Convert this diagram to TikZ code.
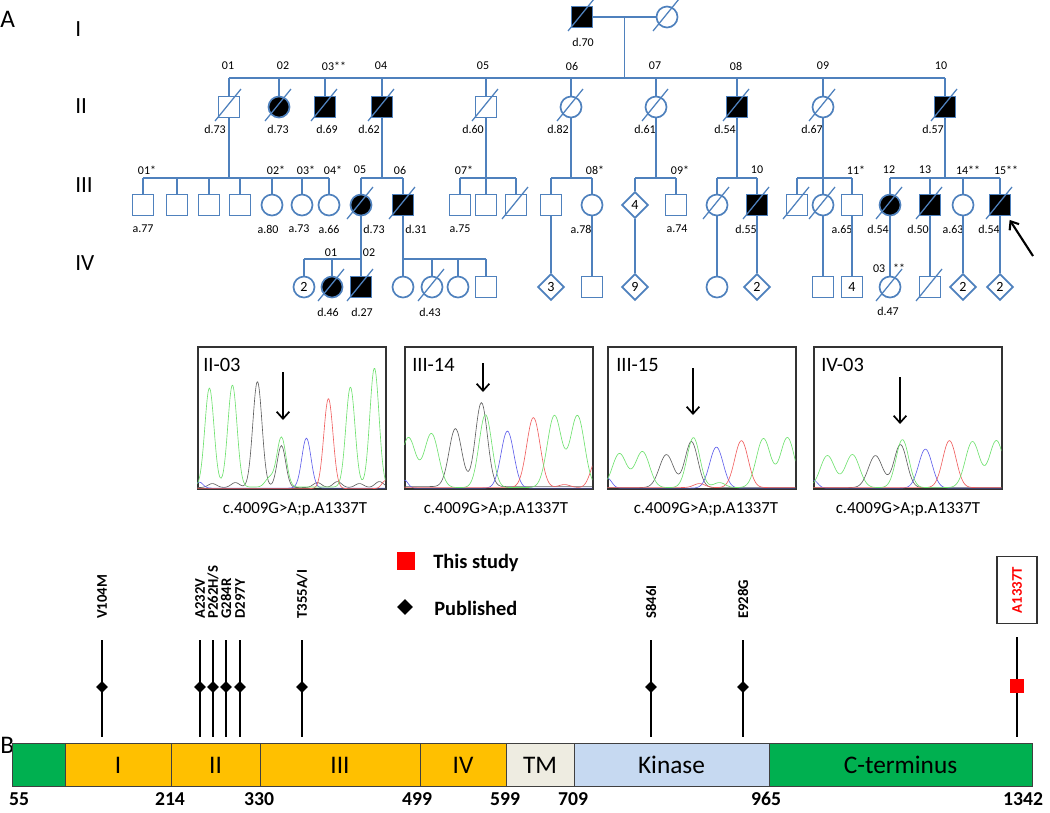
\documentclass[tikz,border=0pt]{standalone}
\usepackage{fontspec}
\setmainfont{Carlito}
\usetikzlibrary{arrows.meta,positioning,shapes.geometric,calc}
\definecolor{pedblue}{RGB}{79,129,189}
\definecolor{domgreen}{RGB}{0,176,80}
\definecolor{domgold}{RGB}{255,192,0}
\definecolor{domtm}{RGB}{238,236,225}
\definecolor{domkin}{RGB}{198,217,241}
\definecolor{trgreen}{RGB}{110,225,110}
\definecolor{trgray}{RGB}{95,95,95}
\definecolor{trblue}{RGB}{95,95,235}
\definecolor{trred}{RGB}{240,95,95}
\definecolor{studyred}{RGB}{255,0,0}
\newcommand{\letfont}{\fontsize{18}{20}\selectfont}
\newcommand{\genfont}{\fontsize{16.5}{18}\selectfont}
\newcommand{\pedfont}{\fontsize{8.5}{10}\selectfont}
\newcommand{\symfont}{\fontsize{10}{11}\selectfont}
\newcommand{\panfont}{\fontsize{14.5}{16}\selectfont}
\newcommand{\capfont}{\fontsize{12}{14}\selectfont}
\newcommand{\legfont}{\fontsize{14.5}{16}\selectfont\bfseries}
\newcommand{\domfont}{\fontsize{18}{20}\selectfont}
\newcommand{\numfont}{\fontsize{14}{16}\selectfont\bfseries}
\newcommand{\mutfont}{\fontsize{10.5}{12}\selectfont\bfseries}

\begin{document}
\begin{tikzpicture}[x=0.025cm,y=-0.025cm,
  declare function={pk(\pkx,\pkc,\pkh,\pkw)=\pkh*exp(max(-9,0-((\pkx-\pkc)/\pkw)*((\pkx-\pkc)/\pkw)));},
  ped/.style={draw=pedblue,line width=1.2pt},
  person/.style={ped,minimum size=0.525cm,inner sep=0pt,font=\symfont},
  unknown/.style={ped,diamond,fill=white,minimum size=0.66cm,inner sep=0pt,font=\symfont},
  dead/.style={draw=pedblue,line width=0.9pt},
  pedtxt/.style={font=\pedfont,inner sep=0pt},
  gentxt/.style={font=\genfont,anchor=west,inner sep=0pt},
  panel/.style={draw=black!80,line width=0.8pt,minimum width=4.7cm,minimum height=3.55cm,inner sep=0pt},
  trace/.style={line width=0.45pt},
  seqarrow/.style={-{Straight Barb[length=5pt,width=9pt]},line width=1.2pt},
  proband/.style={-{Straight Barb[length=5pt,width=8pt]},line width=1.5pt,shorten >=3pt},
  dom/.style={draw=black!75,line width=0.6pt},
  stem/.style={line width=1.4pt},
  pubmark/.style={diamond,fill=black,minimum size=0.3cm,inner sep=0pt},
  studymark/.style={rectangle,fill=studyred,minimum size=0.33cm,inner sep=0pt},
  mutlab/.style={rotate=90,anchor=west,font=\mutfont,inner sep=0pt},
]
  \useasboundingbox (0,0) rectangle (1050,812);

  % Panel A: pedigree
  \node[font=\letfont,anchor=west,inner sep=0pt] (labA) at (0,19) {A};
  \node[gentxt] (gI) at (75,29) {I};
  \node[gentxt] (gII) at (75,106) {II};
  \node[gentxt] (gIII) at (75,185) {III};
  \node[gentxt] (gIV) at (75,263) {IV};

  % generation I
  \node[person,fill=black] (I1) at (582,17) {};
  \node[person,circle,fill=white] (I2) at (667,17) {};
  \node[pedtxt] (aI1) at (583,42) {d.70};
  \draw[ped] (I1.east) -- (I2.west);
  \coordinate (Ic) at ($(I1.east)!.5!(I2.west)$);
  \coordinate (s2) at (627,78);
  \coordinate (s3) at (0,178);
  \coordinate (s4) at (0,259);
  \draw[ped] (Ic) -- (Ic |- s2);

  % generation II
  \foreach \n/\x/\sh/\f in {01/229/rectangle/white, 02/279/circle/black, 03/325/rectangle/black,
      04/382/rectangle/black, 05/486/rectangle/white, 06/571/circle/white, 07/656/circle/white,
      08/737/rectangle/black, 09/823/circle/white, 10/945/rectangle/black}
    \node[person,shape=\sh,fill=\f] (II\n) at (\x,107) {};
  \foreach \n/\x/\t in {01/228/01, 02/283/02, 03/334/{03**}, 04/381/04, 05/483/05,
      06/572/06, 07/655/07, 08/736/08, 09/823/09, 10/941/10}
    \node[pedtxt] (tII\n) at (\x,66) {\t};
  \foreach \n/\x/\t in {01/215/d.73, 02/278/d.73, 03/327/d.69, 04/369/d.62, 05/473/d.60,
      06/558/d.82, 07/645/d.61, 08/725/d.54, 09/812/d.67, 10/933/d.57}
    \node[pedtxt] (aII\n) at (\x,129) {\t};
  \draw[ped] (II01 |- s2) -- (II10 |- s2);
  \foreach \n in {01,02,03,04,05,06,07,08,09,10}
    \draw[ped] (II\n.north) -- (II\n |- s2);

  % generation III
  \foreach \n/\x/\sh/\f in {A1/143/rectangle/white, A2/177/rectangle/white, A3/209/rectangle/white,
      A4/240/rectangle/white, A5/272/circle/white, A6/302/circle/white, A7/329/circle/white,
      B1/361/circle/black, B2/403/rectangle/black, C1/460/rectangle/white, C2/486/rectangle/white,
      C3/516/rectangle/white, D1/551/rectangle/white, D2/592/circle/white, E2/676/rectangle/white,
      F1/717/circle/white, F2/757/rectangle/black, G1/797/rectangle/white, G2/823/circle/white,
      G3/852/rectangle/white, H1/890/circle/black, H2/930/rectangle/black, H3/963/circle/white,
      H4/1000/rectangle/black}
    \node[person,shape=\sh,fill=\f] (III\n) at (\x,205) {};
  \node[unknown] (IIIE1) at (635,205) {4};
  \foreach \n/\x/\t in {A1/147/01*, A5/276/02*, A6/306/03*, A7/333/04*, B1/360/05, B2/400/06,
      C1/464/07*, D2/595/08*, E2/680/09*, F2/757/10, G3/856/11*, H1/889/12, H2/925/13,
      H3/968/14**, H4/1006/15**}
    \node[pedtxt] (tIII\n) at (\x,170) {\t};
  \foreach \n/\x/\t in {A1/143/a.77, A5/268/a.80, A6/299/a.73, A7/329/a.66, B1/374/d.73,
      B2/416/d.31, C1/460/a.75, D2/581/a.78, E2/677/a.74, F2/746/d.55, G3/842/a.65,
      H1/878/d.54, H2/918/d.50, H3/953/a.63, H4/989/d.54}
    \node[pedtxt] (aIII\n) at (\x,229) {\t};
  \foreach \p/\a/\b in {01/A1/A7, 04/B1/B2, 05/C1/C3, 06/D1/D2, 07/E1/E2, 08/F1/F2, 09/G1/G3, 10/H1/H4} {
    \draw[ped] (II\p.south) -- (II\p |- s3);
    \draw[ped] (III\a |- s3) -- (III\b |- s3);
  }
  \foreach \n in {A1,A2,A3,A4,A5,A6,A7,B1,B2,C1,C2,C3,D1,D2,E1,E2,F1,F2,G1,G2,G3,H1,H2,H3,H4}
    \draw[ped] (III\n.north) -- (III\n |- s3);

  % generation IV
  \foreach \n/\x/\sh/\f/\t in {P1/304/circle/white/2, P2/332/circle/black/{}, P3/361/rectangle/black/{},
      Q1/403/circle/white/{}, Q2/432/circle/white/{}, Q3/458/circle/white/{}, Q4/486/rectangle/white/{},
      R2/592/rectangle/white/{}, R4/717/circle/white/{}, R6/823/rectangle/white/{},
      R7/852/rectangle/white/4, R8/890/circle/white/{}, R9/930/rectangle/white/{}}
    \node[person,shape=\sh,fill=\f] (IV\n) at (\x,287) {\t};
  \foreach \n/\x/\t in {R1/551/3, R3/635/9, R5/757/2, R10/963/2, R11/1000/2}
    \node[unknown] (IV\n) at (\x,287) {\t};
  \node[pedtxt] (tIVP2) at (331,253) {01};
  \node[pedtxt] (tIVP3) at (369,253) {02};
  \node[pedtxt] (tIVR8) at (889,268) {03\hspace{0.2cm}**};
  \node[pedtxt] (aIVP2) at (328,312) {d.46};
  \node[pedtxt] (aIVP3) at (362,312) {d.27};
  \node[pedtxt] (aIVQ2) at (430,312) {d.43};
  \node[pedtxt] (aIVR8) at (888,311) {d.47};
  \draw[ped] (IIIB1.south) -- (IVP3.north);
  \draw[ped] (IVP1 |- s4) -- (IVP3 |- s4);
  \draw[ped] (IIIB2.south) -- (IVQ1.north);
  \draw[ped] (IVQ1 |- s4) -- (IVQ4 |- s4);
  \foreach \n in {P1,P2,Q2,Q3,Q4}
    \draw[ped] (IV\n.north) -- (IV\n |- s4);
  \foreach \a/\b in {D1/R1, D2/R2, E1/R3, F1/R4, F2/R5, G2/R6, G3/R7, H1/R8, H2/R9, H3/R10, H4/R11}
    \draw[ped] (III\a.south) -- (IV\b.north);

  % deceased
  \foreach \n in {I1,I2,II01,II02,II03,II04,II05,II06,II07,II08,II09,II10,IIIB1,IIIB2,IIIC3,
      IIIF1,IIIF2,IIIG1,IIIG2,IIIH1,IIIH2,IIIH4,IVP2,IVP3,IVQ2,IVR8,IVR9}
    \draw[dead] ($(\n.center)+(-14,14)$) -- ($(\n.center)+(12,-18)$);

  % proband
  \coordinate (pb) at (1033,256);
  \draw[proband] (pb) -- (IIIH4);

  % chromatograms
  \node[panel] (pan1) at (292,418) {};
  \node[panel] (pan2) at (499,418) {};
  \node[panel] (pan3) at (702,418) {};
  \node[panel] (pan4) at (908,418) {};

  \begin{scope}[shift={(pan1.south west)},yscale=-1]
    \clip (0,0) rectangle (188,142);
    \draw[trace,trgray] plot[domain=0:188,samples=160,smooth] (\x,{2+pk(\x,60,106,6.5)+pk(\x,84,42,6)+pk(\x,15,4,6)+pk(\x,38,5,6)+pk(\x,120,5,6)+pk(\x,140,6,6)+pk(\x,162,4,6)+pk(\x,182,6,6)});
    \draw[trace,trblue] plot[domain=0:188,samples=160,smooth] (\x,{1.5+pk(\x,109,50,6.5)+pk(\x,2,6,5)});
    \draw[trace,trred] plot[domain=0:188,samples=160,smooth] (\x,{1+pk(\x,131,90,6.5)+pk(\x,188,8,5)});
    \draw[trace,trgreen] plot[domain=0:188,samples=160,smooth] (\x,{2.5+pk(\x,12,99,6.5)+pk(\x,35,102,6.5)+pk(\x,72,9,6)+pk(\x,84,50,6.5)+pk(\x,153,100,6.5)+pk(\x,177,119,6.5)});
  \end{scope}
  \begin{scope}[shift={(pan2.south west)},yscale=-1]
    \clip (0,0) rectangle (188,142);
    \draw[trace,trgray] plot[domain=0:188,samples=160,smooth] (\x,{3+pk(\x,51,58,9)+pk(\x,77,84,8.5)});
    \draw[trace,trblue] plot[domain=0:188,samples=160,smooth] (\x,{1.5+pk(\x,103,57,9)+pk(\x,0,8,5)});
    \draw[trace,trred] plot[domain=0:188,samples=160,smooth] (\x,{2+pk(\x,129,70,9.5)+pk(\x,192,28,8)+pk(\x,160,3,8)});
    \draw[trace,trgreen] plot[domain=0:188,samples=160,smooth] (\x,{2+pk(\x,4,50,10)+pk(\x,27,54,10)+pk(\x,81,73,9)+pk(\x,150,72,10)+pk(\x,173,72,10)});
  \end{scope}
  \begin{scope}[shift={(pan3.south west)},yscale=-1]
    \clip (0,0) rectangle (188,142);
    \draw[trace,trgray] plot[domain=0:188,samples=160,smooth] (\x,{2+pk(\x,59,33,10)+pk(\x,84,46,9)});
    \draw[trace,trblue] plot[domain=0:188,samples=160,smooth] (\x,{1.5+pk(\x,109,41,9.5)+pk(\x,0,10,6)});
    \draw[trace,trred] plot[domain=0:188,samples=160,smooth] (\x,{2+pk(\x,134,47,9.5)+pk(\x,92,4,8)});
    \draw[trace,trgreen] plot[domain=0:188,samples=160,smooth] (\x,{2+pk(\x,12,34,10)+pk(\x,35,36,10)+pk(\x,86,50,9)+pk(\x,112,5,8)+pk(\x,156,49,10)+pk(\x,180,50,10)});
  \end{scope}
  \begin{scope}[shift={(pan4.south west)},yscale=-1]
    \clip (0,0) rectangle (188,142);
    \draw[trace,trgray] plot[domain=0:188,samples=160,smooth] (\x,{2+pk(\x,62,32,10)+pk(\x,87,43,9)});
    \draw[trace,trblue] plot[domain=0:188,samples=160,smooth] (\x,{1.5+pk(\x,112,39,9.5)+pk(\x,0,8,6)});
    \draw[trace,trred] plot[domain=0:188,samples=160,smooth] (\x,{2+pk(\x,136,47,9.5)});
    \draw[trace,trgreen] plot[domain=0:188,samples=160,smooth] (\x,{2+pk(\x,14,32,10)+pk(\x,39,33,10)+pk(\x,89,48,9)+pk(\x,159,46,10)+pk(\x,183,47,10)});
  \end{scope}

  \node[font=\panfont,anchor=base west,inner sep=0pt] (lab1) at (203,371) {II-03};
  \node[font=\panfont,anchor=base west,inner sep=0pt] (lab2) at (412,371) {III-14};
  \node[font=\panfont,anchor=base west,inner sep=0pt] (lab3) at (616,371) {III-15};
  \node[font=\panfont,anchor=base west,inner sep=0pt] (lab4) at (821,371) {IV-03};

  \coordinate (ar1a) at (283,372); \coordinate (ar1b) at (283,420);
  \coordinate (ar2a) at (483,363); \coordinate (ar2b) at (483,392);
  \coordinate (ar3a) at (693,368); \coordinate (ar3b) at (693,415);
  \coordinate (ar4a) at (900,377); \coordinate (ar4b) at (900,424);
  \foreach \i in {1,2,3,4}
    \draw[seqarrow] (ar\i a) -- (ar\i b);

  \node[font=\capfont,anchor=base,inner sep=0pt] (cap1) at (295,513) {c.4009G>A;p.A1337T};
  \node[font=\capfont,anchor=base,inner sep=0pt] (cap2) at (496,513) {c.4009G>A;p.A1337T};
  \node[font=\capfont,anchor=base,inner sep=0pt] (cap3) at (706,513) {c.4009G>A;p.A1337T};
  \node[font=\capfont,anchor=base,inner sep=0pt] (cap4) at (908,513) {c.4009G>A;p.A1337T};

  % Panel B: protein
  \node[font=\letfont,anchor=west,inner sep=0pt] (labB) at (0,745) {B};

  \node[studymark,minimum size=0.43cm] (legS) at (406,561) {};
  \node[font=\legfont,anchor=west,inner sep=0pt] (legSt) at (433,563) {This study};
  \node[pubmark,minimum size=0.4cm] (legP) at (405,607) {};
  \node[font=\legfont,anchor=west,inner sep=0pt] (legPt) at (434,608) {Published};

  \draw[dom,fill=domgreen] (12,743) rectangle (65,786);
  \foreach \a/\b/\c/\t/\n in {65/171/domgold/I/I, 171/260/domgold/II/II, 260/420/domgold/III/III,
      420/506/domgold/IV/IV, 506/574/domtm/TM/TM, 574/769/domkin/Kinase/Kin, 769/1032/domgreen/C-terminus/C} {
    \draw[dom,fill=\c] (\a,743) rectangle (\b,786);
    \node[font=\domfont,inner sep=0pt] (d\n) at ({(\a+\b)/2},765) {\t};
  }
  \foreach \x/\t in {19/55, 170/214, 259/330, 417/499, 505/599, 573/709, 766/965, 1023/1342}
    \node[font=\numfont,anchor=base,inner sep=0pt] (p\t) at (\x,805) {\t};

  \foreach \i/\x/\t in {1/102/V104M, 2/200/A232V, 3/213/{P262H/S}, 4/226/G284R, 5/240/D297Y,
      6/302/{T355A/I}, 7/651/S846I, 8/743/E928G} {
    \coordinate (mt\i) at (\x,640);
    \coordinate (mb\i) at (\x,737);
    \draw[stem] (mt\i) -- (mb\i);
    \node[pubmark] (mk\i) at (\x,687) {};
    \node[mutlab] (ml\i) at (\x,619) {\t};
  }
  \coordinate (mt9) at (1017,637);
  \coordinate (mb9) at (1017,737);
  \draw[stem] (mt9) -- (mb9);
  \node[studymark] (mk9) at (1017,686) {};
  \node[draw=black!80,line width=0.8pt,rotate=90,font=\mutfont,text=studyred,
        minimum width=1.675cm,minimum height=1.0cm,inner sep=0pt] (ml9) at (1017,590) {A1337T};
\end{tikzpicture}
\end{document}
